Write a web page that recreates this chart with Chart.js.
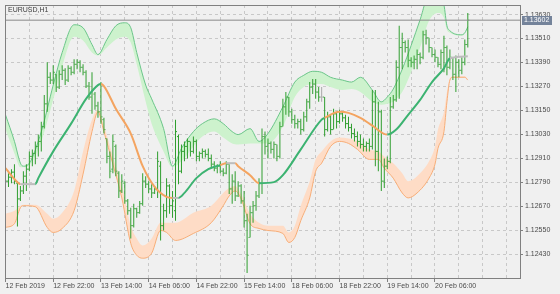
<!DOCTYPE html>
<html>
<head>
<meta charset="utf-8">
<script src="https://cdn.jsdelivr.net/npm/chart.js@4.4.1/dist/chart.umd.min.js"></script>
<style>
    html, body { margin: 0; padding: 0; background: #f0f0f0; }
    #wrap { width: 560px; height: 294px; }
</style>
</head>
<body>
<div id="wrap"><canvas id="eurusdChart" width="560" height="294"></canvas></div>
<script>
const symbolTitle = "EURUSD,H1";
const lastPrice = 1.13602;

// hourly bars, 12 Feb 06:00 .. 20 Feb 17:00
const barOpen = [
    1.12767, 1.12796, 1.12816, 1.12841, 1.12786, 1.12707, 1.12747, 1.12821, 1.12856, 1.12920,
    1.12935, 1.12970, 1.12995, 1.13069, 1.13183, 1.13316, 1.13302, 1.13331, 1.13267, 1.13331,
    1.13351, 1.13302, 1.13361, 1.13341, 1.13381, 1.13391, 1.13366, 1.13341, 1.13272, 1.13217,
    1.13232, 1.13173, 1.13143, 1.13104, 1.13009, 1.12920, 1.12856, 1.12970, 1.12836, 1.12747,
    1.12786, 1.12697, 1.12648, 1.12573, 1.12658, 1.12638, 1.12683, 1.12796, 1.12781, 1.12757,
    1.12737, 1.12757, 1.12871, 1.12573, 1.12648, 1.12772, 1.12673, 1.12648, 1.13019, 1.12846,
    1.12945, 1.12970, 1.12995, 1.12945, 1.12995, 1.12920, 1.12935, 1.12945, 1.12930, 1.12910,
    1.12881, 1.12861, 1.12871, 1.12846, 1.12836, 1.12881, 1.12757, 1.12796, 1.12722, 1.12772,
    1.12697, 1.12598, 1.12514, 1.12638, 1.12673, 1.12722, 1.12786, 1.13019, 1.12970, 1.12985,
    1.12955, 1.12980, 1.12920, 1.13069, 1.13168, 1.13217, 1.13143, 1.13104, 1.13084, 1.13094,
    1.13054, 1.13118, 1.13193, 1.13267, 1.13282, 1.13242, 1.13217, 1.13217, 1.13054, 1.13118,
    1.13054, 1.13133, 1.13094, 1.13133, 1.13113, 1.13084, 1.13064, 1.13034, 1.13019, 1.12995,
    1.12980, 1.12970, 1.12985, 1.12970, 1.13193, 1.12945, 1.13143, 1.12796, 1.12871, 1.12895,
    1.13168, 1.13203, 1.13366, 1.13465, 1.13490, 1.13465, 1.13401, 1.13391, 1.13406, 1.13430,
    1.13416, 1.13529, 1.13514, 1.13465, 1.13430, 1.13416, 1.13381, 1.13440, 1.13465, 1.13366,
    1.13416, 1.13331, 1.13391, 1.13351, 1.13391, 1.13480
];
const barHigh = [
    1.12811, 1.12836, 1.12856, 1.12881, 1.12796, 1.12772, 1.12846, 1.12881, 1.12945, 1.12955,
    1.12995, 1.13029, 1.13094, 1.13227, 1.13391, 1.13341, 1.13376, 1.13331, 1.13351, 1.13376,
    1.13361, 1.13376, 1.13371, 1.13406, 1.13406, 1.13401, 1.13381, 1.13351, 1.13292, 1.13341,
    1.13242, 1.13193, 1.13292, 1.13113, 1.13009, 1.12945, 1.13029, 1.12980, 1.12846, 1.12831,
    1.12796, 1.12707, 1.12663, 1.12683, 1.12663, 1.12697, 1.12836, 1.12821, 1.12796, 1.12781,
    1.12772, 1.12945, 1.12895, 1.12683, 1.12811, 1.12781, 1.12747, 1.13104, 1.13029, 1.12980,
    1.12995, 1.13009, 1.12995, 1.13019, 1.13004, 1.12945, 1.12960, 1.12955, 1.12960, 1.12930,
    1.12895, 1.12881, 1.12895, 1.12861, 1.12895, 1.12881, 1.12831, 1.12846, 1.12796, 1.12781,
    1.12747, 1.12633, 1.12673, 1.12697, 1.12747, 1.12811, 1.13059, 1.13044, 1.13009, 1.12995,
    1.12995, 1.12980, 1.13094, 1.13208, 1.13242, 1.13217, 1.13158, 1.13128, 1.13108, 1.13108,
    1.13143, 1.13208, 1.13292, 1.13307, 1.13307, 1.13267, 1.13267, 1.13217, 1.13143, 1.13128,
    1.13158, 1.13143, 1.13153, 1.13143, 1.13128, 1.13118, 1.13084, 1.13059, 1.13044, 1.13029,
    1.13009, 1.12995, 1.13009, 1.13252, 1.13252, 1.13193, 1.13153, 1.12910, 1.12920, 1.13217,
    1.13227, 1.13401, 1.13574, 1.13539, 1.13500, 1.13505, 1.13416, 1.13425, 1.13455, 1.13440,
    1.13549, 1.13554, 1.13514, 1.13465, 1.13455, 1.13416, 1.13455, 1.13524, 1.13475, 1.13455,
    1.13416, 1.13425, 1.13406, 1.13416, 1.13505, 1.13638
];
const barLow = [
    1.12747, 1.12767, 1.12786, 1.12781, 1.12569, 1.12697, 1.12732, 1.12747, 1.12846, 1.12871,
    1.12881, 1.12920, 1.12945, 1.13059, 1.13143, 1.13282, 1.13282, 1.13242, 1.13257, 1.13302,
    1.13277, 1.13292, 1.13326, 1.13331, 1.13356, 1.13341, 1.13326, 1.13262, 1.13203, 1.13133,
    1.13153, 1.13113, 1.13084, 1.13034, 1.12886, 1.12811, 1.12836, 1.12821, 1.12712, 1.12737,
    1.12683, 1.12628, 1.12509, 1.12564, 1.12613, 1.12633, 1.12673, 1.12762, 1.12737, 1.12712,
    1.12732, 1.12712, 1.12499, 1.12549, 1.12613, 1.12633, 1.12613, 1.12598, 1.12781, 1.12836,
    1.12895, 1.12910, 1.12920, 1.12935, 1.12895, 1.12895, 1.12910, 1.12915, 1.12895, 1.12861,
    1.12846, 1.12836, 1.12836, 1.12821, 1.12831, 1.12732, 1.12683, 1.12697, 1.12717, 1.12683,
    1.12564, 1.12336, 1.12514, 1.12588, 1.12648, 1.12712, 1.12732, 1.12930, 1.12910, 1.12935,
    1.12910, 1.12895, 1.12910, 1.13069, 1.13128, 1.13118, 1.13084, 1.13059, 1.13059, 1.13029,
    1.13044, 1.13094, 1.13158, 1.13232, 1.13208, 1.13193, 1.13193, 1.13019, 1.13044, 1.13029,
    1.13054, 1.13059, 1.13084, 1.13094, 1.13059, 1.13044, 1.13009, 1.12995, 1.12970, 1.12960,
    1.12945, 1.12945, 1.12945, 1.12955, 1.12871, 1.12846, 1.12747, 1.12762, 1.12856, 1.12886,
    1.13158, 1.13193, 1.13208, 1.13356, 1.13440, 1.13366, 1.13366, 1.13356, 1.13356, 1.13381,
    1.13406, 1.13480, 1.13440, 1.13416, 1.13391, 1.13366, 1.13356, 1.13341, 1.13326, 1.13356,
    1.13302, 1.13242, 1.13316, 1.13331, 1.13376, 1.13465
];
const barClose = [
    1.12796, 1.12816, 1.12841, 1.12796, 1.12707, 1.12747, 1.12821, 1.12856, 1.12920, 1.12935,
    1.12970, 1.12995, 1.13069, 1.13183, 1.13316, 1.13302, 1.13341, 1.13267, 1.13331, 1.13351,
    1.13302, 1.13361, 1.13341, 1.13381, 1.13391, 1.13366, 1.13341, 1.13272, 1.13217, 1.13252,
    1.13173, 1.13143, 1.13118, 1.13054, 1.12920, 1.12846, 1.12995, 1.12846, 1.12747, 1.12796,
    1.12697, 1.12648, 1.12573, 1.12658, 1.12638, 1.12683, 1.12796, 1.12781, 1.12757, 1.12737,
    1.12757, 1.12895, 1.12573, 1.12648, 1.12772, 1.12673, 1.12697, 1.13044, 1.12846, 1.12945,
    1.12970, 1.12995, 1.12945, 1.12995, 1.12920, 1.12935, 1.12945, 1.12930, 1.12910, 1.12881,
    1.12861, 1.12871, 1.12846, 1.12836, 1.12881, 1.12757, 1.12796, 1.12722, 1.12772, 1.12697,
    1.12598, 1.12425, 1.12638, 1.12673, 1.12722, 1.12786, 1.13019, 1.12970, 1.12985, 1.12955,
    1.12980, 1.12920, 1.13069, 1.13168, 1.13217, 1.13143, 1.13104, 1.13084, 1.13094, 1.13054,
    1.13118, 1.13193, 1.13267, 1.13282, 1.13242, 1.13217, 1.13217, 1.13054, 1.13118, 1.13054,
    1.13133, 1.13094, 1.13133, 1.13113, 1.13084, 1.13064, 1.13034, 1.13019, 1.12995, 1.12980,
    1.12970, 1.12985, 1.12970, 1.13193, 1.12945, 1.13143, 1.12796, 1.12871, 1.12895, 1.13168,
    1.13203, 1.13366, 1.13465, 1.13490, 1.13465, 1.13401, 1.13391, 1.13406, 1.13430, 1.13416,
    1.13529, 1.13514, 1.13465, 1.13430, 1.13416, 1.13381, 1.13440, 1.13465, 1.13366, 1.13416,
    1.13331, 1.13391, 1.13351, 1.13391, 1.13480, 1.13602
];

// upper band: outer line and inner edge of the green zone (read at these bars)
const upperBars = [0, 3, 5, 6, 8, 12, 16, 19, 23, 26, 29, 31, 34, 37, 40, 42, 44, 47, 49, 53,
    56, 59, 63, 66, 70, 73, 76, 78, 82, 85, 88, 93, 97, 100, 103, 106, 109, 113, 116, 119,
    123, 126, 128, 130, 133, 136, 139, 142, 145, 147, 148, 149, 153, 154, 155];
const upperOuter = [1.13128, 1.12995, 1.12886, 1.12871, 1.12886, 1.13044, 1.13277, 1.13440, 1.13579, 1.13564,
    1.13480, 1.13430, 1.13505, 1.13574, 1.13589, 1.13564, 1.13440, 1.13277, 1.13208, 1.13059,
    1.12871, 1.12960, 1.13044, 1.13084, 1.13108, 1.13084, 1.13044, 1.13029, 1.13059, 1.12995,
    1.13034, 1.13168, 1.13292, 1.13326, 1.13346, 1.13341, 1.13316, 1.13302, 1.13292, 1.13316,
    1.13252, 1.13193, 1.13217, 1.13257, 1.13356, 1.13475, 1.13604, 1.13728, 1.13728, 1.13678,
    1.13574, 1.13549, 1.13529, 1.13539, 1.13569];
const upperInner = [1.13054, 1.12935, 1.12866, 1.12866, 1.12876, 1.12995, 1.13203, 1.13371, 1.13519, 1.13500,
    1.13440, 1.13425, 1.13465, 1.13505, 1.13519, 1.13490, 1.13381, 1.13193, 1.13084, 1.12945,
    1.12866, 1.12895, 1.12970, 1.13019, 1.13044, 1.13014, 1.12985, 1.12980, 1.12985, 1.12985,
    1.12985, 1.13069, 1.13217, 1.13267, 1.13282, 1.13282, 1.13267, 1.13252, 1.13257, 1.13242,
    1.13193, 1.13178, 1.13183, 1.13193, 1.13242, 1.13341, 1.13465, 1.13599, 1.13638, 1.13614,
    1.13554, 1.13539, 1.13524, 1.13534, 1.13559];

// lower band: outer line and inner edge of the orange zone
const lowerBars = [0, 3, 5, 6, 10, 14, 16, 19, 23, 26, 29, 31, 33, 36, 39, 42, 44, 46, 49, 52,
    54, 57, 63, 69, 73, 75, 77, 79, 82, 85, 88, 93, 95, 97, 99, 102, 104, 106, 109, 112,
    115, 118, 122, 125, 127, 130, 133, 135, 138, 142, 144, 145, 147, 148, 149, 150, 154, 155];
const lowerOuter = [1.12564, 1.12583, 1.12663, 1.12673, 1.12668, 1.12564, 1.12539, 1.12559, 1.12648, 1.12831,
    1.13044, 1.13143, 1.13044, 1.12881, 1.12712, 1.12484, 1.12425, 1.12410, 1.12435, 1.12549,
    1.12539, 1.12499, 1.12534, 1.12588, 1.12673, 1.12722, 1.12747, 1.12707, 1.12583, 1.12559,
    1.12549, 1.12534, 1.12489, 1.12514, 1.12598, 1.12712, 1.12846, 1.12886, 1.12970, 1.12995,
    1.12985, 1.12955, 1.12905, 1.12905, 1.12861, 1.12811, 1.12737, 1.12712, 1.12737, 1.12811,
    1.12881, 1.12960, 1.13044, 1.13193, 1.13302, 1.13316, 1.13316, 1.13302];
const lowerInner = [1.12633, 1.12648, 1.12673, 1.12678, 1.12678, 1.12633, 1.12608, 1.12638, 1.12747, 1.12945,
    1.13104, 1.13153, 1.13074, 1.12920, 1.12772, 1.12573, 1.12509, 1.12474, 1.12509, 1.12588,
    1.12588, 1.12588, 1.12638, 1.12673, 1.12737, 1.12762, 1.12772, 1.12732, 1.12633, 1.12588,
    1.12573, 1.12573, 1.12539, 1.12573, 1.12673, 1.12796, 1.12905, 1.12945, 1.12995, 1.13014,
    1.13009, 1.12995, 1.12955, 1.12945, 1.12920, 1.12886, 1.12836, 1.12796, 1.12821, 1.12895,
    1.12970, 1.13054, 1.13143, 1.13242, 1.13312, 1.13321, 1.13321, 1.13307];

// middle line and its state (1 up, -1 down, 0 flat) from each point to the next
const midBars = [0, 4, 5, 10, 11, 16, 22, 27, 31, 32, 33, 37, 42, 46, 50, 54, 56, 58, 60, 64,
    68, 72, 74, 77, 78, 82, 85, 90, 93, 99, 106, 107, 112, 115, 119, 123, 128, 131, 135, 139,
    143, 147, 149, 155];
const midValues = [1.12861, 1.12791, 1.12781, 1.12781, 1.12811, 1.12945, 1.13084, 1.13208, 1.13277, 1.13282,
    1.13272, 1.13158, 1.13034, 1.12871, 1.12767, 1.12717, 1.12712, 1.12712, 1.12737, 1.12811,
    1.12856, 1.12876, 1.12886, 1.12886, 1.12871, 1.12826, 1.12786, 1.12791, 1.12826, 1.12955,
    1.13104, 1.13113, 1.13143, 1.13138, 1.13113, 1.13074, 1.13029, 1.13054, 1.13128, 1.13203,
    1.13292, 1.13361, 1.13411, 1.13421];
const midTrend = [-1, -1, 0, 1, 1, 1, 1, 1, 1, -1, -1, -1, -1, -1, -1, -1, 0, 1, 1, 1,
    1, -1, 0, -1, -1, -1, 1, 1, 1, 1, 1, -1, -1, -1, -1, -1, 1, 1, 1, 1,
    1, 1, 0, 0];

const timeLabels = ["12 Feb 2019", "12 Feb 22:00", "13 Feb 14:00", "14 Feb 06:00", "14 Feb 22:00",
    "15 Feb 14:00", "18 Feb 06:00", "18 Feb 22:00", "19 Feb 14:00", "20 Feb 06:00"];
const labelBars = [0, 16, 32, 48, 64, 80, 96, 112, 128, 144];
const gridBars = [0, 8, 16, 24, 32, 40, 48, 56, 64, 72, 80, 88, 96, 104, 112, 120, 128, 136, 144, 152, 160, 168];
const priceTicks = [1.12430, 1.12550, 1.12670, 1.12790, 1.12910, 1.13030, 1.13150, 1.13270, 1.13390, 1.13510, 1.13630];

const X_MIN = -1 / 6;
const X_MAX = X_MIN + 518 / 3;
const Y_MIN = 1.12311;
const Y_MAX = 1.13678;

const BAR_GREEN = "#2f9e2f";
const DOJI_GRAY = "#a8a8a8";
const axisFont = { family: "'Liberation Sans', Arial, sans-serif", size: 7 };

const toXY = (bars, vals) => bars.map((b, k) => ({ x: b, y: vals[k] }));
const isDoji = (i) => barOpen[i] === barClose[i];
const trendColor = (t) => (t > 0 ? "#3cb371" : t < 0 ? "#f4a460" : "#bdbdbd");

const chartDecor = {
    id: "chartDecor",
    beforeDraw(chart) {
        const ctx = chart.ctx;
        ctx.save();
        ctx.fillStyle = "#f0f0f0";
        ctx.fillRect(0, 0, chart.width, chart.height);
        ctx.restore();
    },
    afterDraw(chart) {
        const { ctx, chartArea } = chart;
        const y = chart.scales.y.getPixelForValue(lastPrice);
        ctx.save();
        ctx.strokeStyle = "#808080";
        ctx.lineWidth = 1;
        ctx.strokeRect(chartArea.left + 0.5, chartArea.top + 0.5, chartArea.width, chartArea.height);
        // title
        ctx.font = "7px 'Liberation Sans', Arial, sans-serif";
        ctx.fillStyle = "#404040";
        ctx.textBaseline = "middle";
        ctx.textAlign = "left";
        ctx.fillText(symbolTitle, chartArea.left + 3, chartArea.top + 5);
        // last price tag
        ctx.fillStyle = "#74839a";
        ctx.fillRect(chartArea.right + 2, Math.round(y) - 4, 30, 9);
        ctx.fillStyle = "#ffffff";
        ctx.fillText(lastPrice.toFixed(5), chartArea.right + 4, Math.round(y) + 0.5);
        ctx.restore();
    },
};

const datasets = [
    {
        type: "line",
        data: toXY(upperBars, upperOuter),
        borderColor: "#6cc68a",
        borderWidth: 1,
        pointRadius: 0,
        cubicInterpolationMode: "monotone",
        fill: false,
        order: 5,
    },
    {
        type: "line",
        data: toXY(upperBars, upperInner),
        borderWidth: 0,
        pointRadius: 0,
        cubicInterpolationMode: "monotone",
        backgroundColor: "#cdf2cd",
        fill: "-1",
        order: 6,
    },
    {
        type: "line",
        data: toXY(lowerBars, lowerOuter),
        borderColor: "#f8ae78",
        borderWidth: 1,
        pointRadius: 0,
        cubicInterpolationMode: "monotone",
        fill: false,
        order: 5,
    },
    {
        type: "line",
        data: toXY(lowerBars, lowerInner),
        borderWidth: 0,
        pointRadius: 0,
        cubicInterpolationMode: "monotone",
        backgroundColor: "#fedcc6",
        fill: "-1",
        order: 6,
    },
    {
        type: "bar",
        data: barHigh.map((h, i) => ({ x: i, y: [barLow[i], h] })),
        backgroundColor: (c) => (isDoji(c.dataIndex) ? DOJI_GRAY : BAR_GREEN),
        borderWidth: 0,
        barThickness: 1,
        inflateAmount: 0,
        order: 3,
    },
    {
        type: "line",
        data: barOpen.map((v, i) => ({ x: i - 1 / 3, y: v })),
        showLine: false,
        pointStyle: "line",
        pointRadius: 0.5,
        pointBorderWidth: 1,
        pointBorderColor: (c) => (isDoji(c.dataIndex) ? DOJI_GRAY : BAR_GREEN),
        order: 3,
    },
    {
        type: "line",
        data: barClose.map((v, i) => ({ x: i + 1 / 3, y: v })),
        showLine: false,
        pointStyle: "line",
        pointRadius: 0.5,
        pointBorderWidth: 1,
        pointBorderColor: (c) => (isDoji(c.dataIndex) ? DOJI_GRAY : BAR_GREEN),
        order: 3,
    },
    {
        type: "line",
        data: toXY(midBars, midValues),
        borderColor: "#3cb371",
        borderWidth: 2,
        pointRadius: 0,
        cubicInterpolationMode: "monotone",
        segment: {
            borderColor: (c) => trendColor(midTrend[c.p0DataIndex]),
        },
        order: 1,
    },
    {
        type: "line",
        data: [{ x: X_MIN, y: lastPrice }, { x: X_MAX, y: lastPrice }],
        borderColor: "#8a8a8a",
        borderWidth: 1,
        pointRadius: 0,
        order: 0,
    },
];

new Chart(document.getElementById("eurusdChart"), {
    type: "bar",
    data: { datasets },
    options: {
        responsive: false,
        animation: false,
        devicePixelRatio: 1,
        events: [],
        layout: { padding: { left: 2, top: 2, right: 0, bottom: 0 } },
        plugins: {
            legend: { display: false },
            tooltip: { enabled: false },
        },
        scales: {
            x: {
                type: "linear",
                min: X_MIN,
                max: X_MAX,
                offset: false,
                afterBuildTicks: (s) => {
                    s.ticks = gridBars.map((v) => ({ value: v }));
                },
                afterFit: (s) => {
                    s.height = 16;
                    s.paddingLeft = 0;
                    s.paddingRight = 0;
                },
                grid: {
                    color: "#c8c8c8",
                    offset: false,
                    tickLength: 4,
                    tickBorderDash: [],
                    tickColor: (c) => (c.tick && labelBars.includes(c.tick.value) ? "#808080" : "rgba(0,0,0,0)"),
                },
                border: { color: "#808080", dash: [3, 3] },
                ticks: {
                    autoSkip: false,
                    maxRotation: 0,
                    minRotation: 0,
                    align: "start",
                    padding: 0,
                    color: "#4a4a4a",
                    font: axisFont,
                    callback: (v) => {
                        const k = labelBars.indexOf(v);
                        return k >= 0 ? timeLabels[k] : "";
                    },
                },
            },
            y: {
                type: "linear",
                position: "right",
                min: Y_MIN,
                max: Y_MAX,
                afterBuildTicks: (s) => {
                    s.ticks = priceTicks.map((v) => ({ value: v }));
                },
                afterFit: (s) => {
                    s.width = 40;
                    s.paddingTop = 0;
                    s.paddingBottom = 0;
                },
                grid: {
                    color: "#c8c8c8",
                    tickLength: 3,
                    tickBorderDash: [],
                    tickColor: "#808080",
                },
                border: { color: "#808080", dash: [3, 3] },
                ticks: {
                    padding: 2,
                    color: "#4a4a4a",
                    font: axisFont,
                    callback: (v) => Number(v).toFixed(5),
                },
            },
        },
    },
    plugins: [chartDecor],
});
</script>
</body>
</html>
